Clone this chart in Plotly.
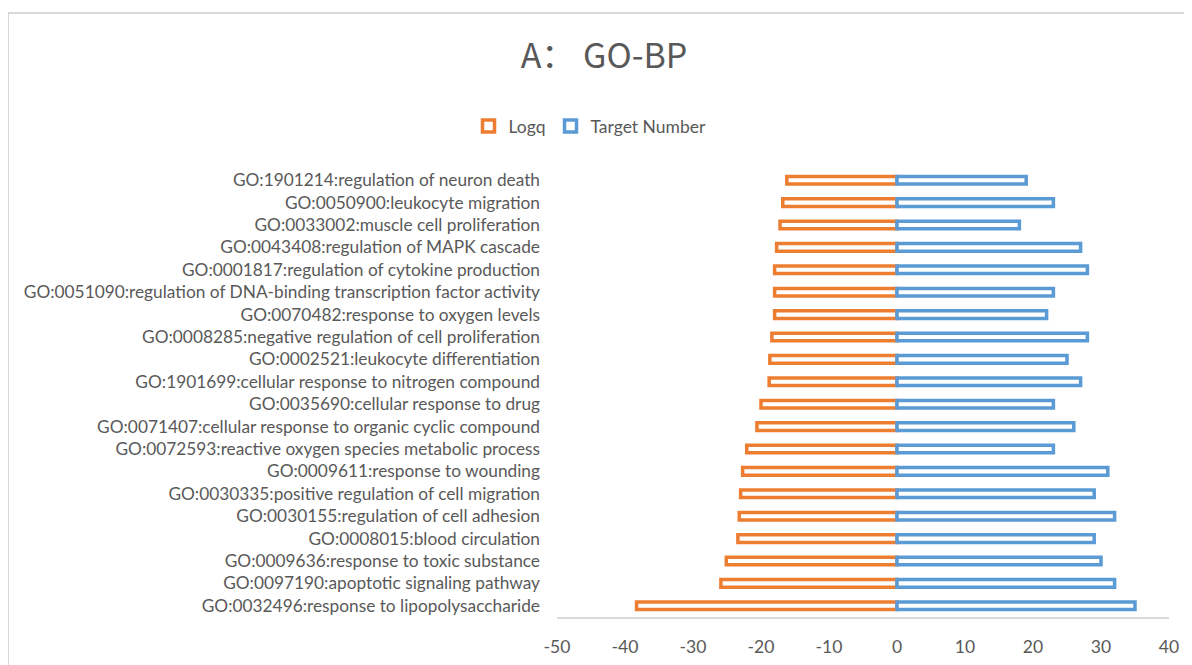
import plotly.graph_objects as go

categories = [
    "GO:1901214:regulation of neuron death",
    "GO:0050900:leukocyte migration",
    "GO:0033002:muscle cell proliferation",
    "GO:0043408:regulation of MAPK cascade",
    "GO:0001817:regulation of cytokine production",
    "GO:0051090:regulation of DNA-binding transcription factor activity",
    "GO:0070482:response to oxygen levels",
    "GO:0008285:negative regulation of cell proliferation",
    "GO:0002521:leukocyte differentiation",
    "GO:1901699:cellular response to nitrogen compound",
    "GO:0035690:cellular response to drug",
    "GO:0071407:cellular response to organic cyclic compound",
    "GO:0072593:reactive oxygen species metabolic process",
    "GO:0009611:response to wounding",
    "GO:0030335:positive regulation of cell migration",
    "GO:0030155:regulation of cell adhesion",
    "GO:0008015:blood circulation",
    "GO:0009636:response to toxic substance",
    "GO:0097190:apoptotic signaling pathway",
    "GO:0032496:response to lipopolysaccharide",
]
logq = [-16.2, -16.8, -17.2, -17.7, -18.0, -18.0, -18.0, -18.4, -18.7, -18.8,
        -20.0, -20.6, -22.1, -22.7, -23.0, -23.2, -23.4, -25.1, -25.9, -38.3]
target_number = [19, 23, 18, 27, 28, 23, 22, 28, 25, 27,
                 23, 26, 23, 31, 29, 32, 29, 30, 32, 35]
x_ticks = [-50, -40, -30, -20, -10, 0, 10, 20, 30, 40]
x_tick_text = [str(v) for v in x_ticks]

FONT = "Lato"
TITLE_FONT = "Noto Sans CJK SC"
ORANGE = "#ED7D31"
BLUE = "#5B9BD5"
GRAY_TXT = "#595959"

fig = go.Figure()
fig.add_trace(go.Bar(
    y=categories, x=logq, orientation="h", name="Logq", width=0.34,
    marker=dict(color="white", line=dict(color=ORANGE, width=3.5)),
))
fig.add_trace(go.Bar(
    y=categories, x=target_number, orientation="h", name="Target Number", width=0.34,
    marker=dict(color="white", line=dict(color=BLUE, width=3.5)),
))

# page body has an 8px margin: work in reference pixel coords minus 8
o = 8
W, H = 1192 - o, 665 - o
L = 557 - o
R = 1192 - 1169
T = 169 - o
B = 665 - 617
pw, ph = W - L - R, H - T - B

def py(yref_px):
    return (H - B - (yref_px - o)) / ph

def px(xref_px):
    return (xref_px - o - L) / pw

fig.update_layout(
    width=W, height=H,
    margin=dict(l=L, r=R, t=T, b=B, pad=0, autoexpand=False),
    paper_bgcolor="white", plot_bgcolor="white",
    barmode="overlay",
    font=dict(family=FONT, size=17.3, color=GRAY_TXT),
    title=dict(text="A： GO-BP", x=(604 - o) / W, xref="container", xanchor="center",
               y=1 - (56 - o) / H, yref="container", yanchor="middle",
               font=dict(family=TITLE_FONT, size=34, color=GRAY_TXT)),
    legend=dict(orientation="h", x=px(590), xanchor="center",
                y=py(126), yanchor="middle",
                font=dict(family=FONT, size=17.5, color=GRAY_TXT),
                bgcolor="rgba(0,0,0,0)", itemwidth=30, traceorder="normal"),
    showlegend=True,
    xaxis=dict(range=[-50, 40], tickvals=x_ticks, ticktext=x_tick_text,
               showgrid=False, zeroline=False, automargin=False,
               showline=True, linecolor="#D9D9D9", linewidth=1.5, ticks="",
               ticklabelstandoff=13, tickfont=dict(family=FONT, size=17.5, color=GRAY_TXT),
               fixedrange=True),
    yaxis=dict(autorange="reversed", showgrid=False, zeroline=False, showline=False,
               automargin=False, ticks="", ticklabelstandoff=16,
               tickfont=dict(family=FONT, size=17.3, color=GRAY_TXT)),
)

# chart-area border (cropped at right/bottom in the reference)
fig.add_shape(type="rect", xref="paper", yref="paper",
              x0=px(8), x1=px(1192 + 30),
              y0=py(665 + 30), y1=py(13),
              line=dict(color="#D9D9D9", width=2), fillcolor="rgba(0,0,0,0)", layer="below")

fig.write_html("out.html")
